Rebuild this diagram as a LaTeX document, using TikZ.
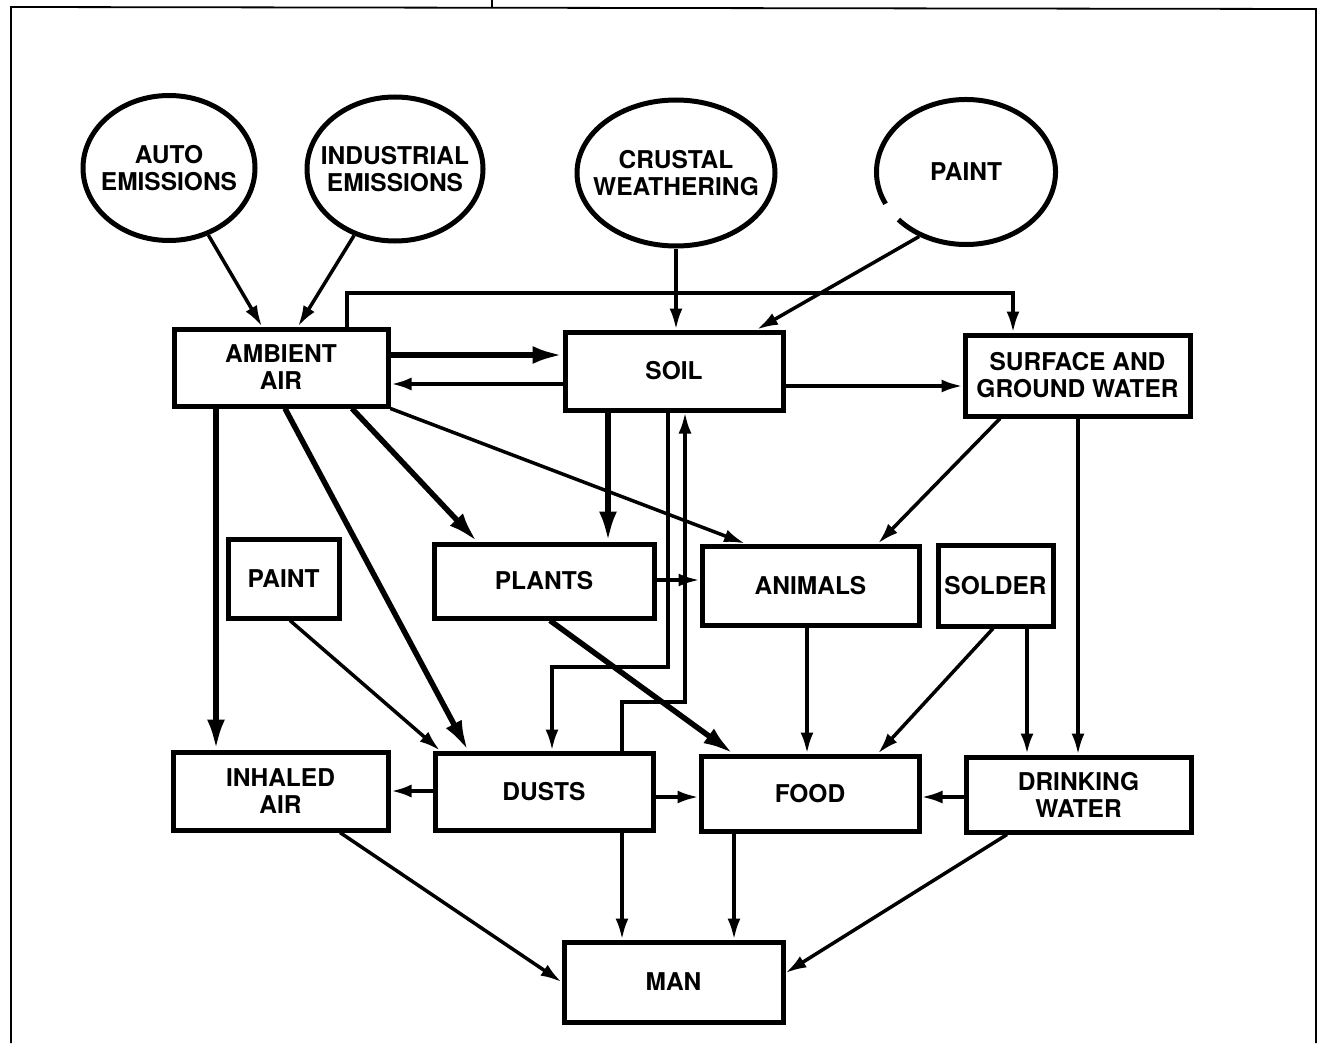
\documentclass[tikz,border=0pt]{standalone}
\usepackage{fontspec}
\setmainfont{TeX Gyre Heros}
\usetikzlibrary{shapes.geometric,arrows.meta}
\newcommand{\lbl}{\bfseries\fontsize{24.5}{27}\selectfont}
\tikzset{
  box/.style={draw, rectangle, line width=5pt, inner sep=0pt, align=center, font=\lbl},
  oval/.style={draw, ellipse, line width=5pt, inner xsep=-40pt, inner ysep=0pt, align=center, font=\lbl},
  arr/.style={line width=3.5pt, -{Latex[length=21pt,width=13pt]}},
  bigarr/.style={line width=5.5pt, -{Latex[length=30pt,width=18pt]}},
  frame/.style={line width=1.8pt}
}
\begin{document}
\begin{tikzpicture}[x=1pt,y=-1pt]
\useasboundingbox (0,0) rectangle (1321,1043);
% frame
\draw[frame] (11,1043) -- (11,7) -- (1316,9) -- (1316,1043);
\draw[frame] (492,0) -- (492,7);
% ellipses
\node[oval, minimum width=172, minimum height=145] (auto) at (169,168) {AUTO\\EMISSIONS};
\node[oval, minimum width=176, minimum height=144] (ind) at (395,169) {INDUSTRIAL\\EMISSIONS};
\node[oval, minimum width=198, minimum height=146] (cw) at (676,173) {CRUSTAL\\WEATHERING};
\node[oval, draw=none, minimum width=179, minimum height=145] (pe) at (966,172) {PAINT};
\draw[line width=5pt] (966,172) ++(154:89.5 and 72.5) arc[start angle=154, end angle=499, x radius=89.5, y radius=72.5];
% boxes
\node[box, minimum width=214, minimum height=77] (aa) at (281,367.5) {AMBIENT\\AIR};
\node[box, minimum width=218, minimum height=78] (soil) at (674,371) {SOIL};
\node[box, minimum width=225, minimum height=81] (sgw) at (1077.5,375.5) {SURFACE AND\\GROUND WATER};
\node[box, minimum width=220, minimum height=74] (plants) at (544,581) {PLANTS};
\node[box, minimum width=217, minimum height=79] (animals) at (810.5,585.5) {ANIMALS};
\node[box, minimum width=115, minimum height=81] (solder) at (995.5,585.5) {SOLDER};
\node[box, minimum width=111, minimum height=79] (pb) at (283.5,578.5) {PAINT};
\node[box, minimum width=215, minimum height=78] (inh) at (280.5,791) {INHALED\\AIR};
\node[box, minimum width=218, minimum height=77] (dusts) at (544,791.5) {DUSTS};
\node[box, minimum width=218, minimum height=75] (food) at (810,793.5) {FOOD};
\node[box, minimum width=225, minimum height=75] (dw) at (1078.5,794.5) {DRINKING\\WATER};
\node[box, minimum width=219, minimum height=80] (man) at (673.5,982) {MAN};
% connectors
\draw[arr] (auto) -- (aa.north -| 262,0);
\draw[arr] (ind) -- (aa.north -| 298,0);
\draw[arr] (cw.south) -- (soil.north -| cw.south);
\draw[arr] (pe.234) -- (soil.north -| 757,0);
\draw[arr] (aa.north -| 347,0) |- (1013,293) -- (sgw.north -| 1013,0);
\draw[bigarr] (aa.east |- 0,355) -- (soil.west |- 0,355);
\draw[arr, line width=4.5pt] (soil.west |- 0,384) -- (aa.east |- 0,384);
\draw[arr] (soil.east |- 0,386) -- (sgw.west |- 0,386);
\draw[bigarr] (aa.south -| 352,0) -- (plants.north -| 477,0);
\draw[arr] (aa.south east) -- (animals.north -| 745,0);
\draw[bigarr] (soil.south -| 608,0) -- (plants.north -| 608,0);
\draw[arr] (soil.south -| 668,0) |- (552,667) -- (dusts.north -| 552,0);
\draw[arr] (dusts.north -| 622,0) |- (685,702) -- (soil.south -| 685,0);
\draw[arr] (plants.east |- 0,580) -- (animals.west |- 0,580);
\draw[bigarr] (plants.south -| 550,0) -- (food.north -| 733,0);
\draw[arr] (sgw.south -| 1000,0) -- (animals.north -| 878,0);
\draw[arr] (sgw.south -| 1078,0) -- (dw.north -| 1078,0);
\draw[bigarr] (aa.south -| 216,0) -- (inh.north -| 216,0);
\draw[bigarr] (aa.south -| 285,0) -- (dusts.north -| 468,0);
\draw[arr] (pb.south -| 290,0) -- (dusts.north -| 440,0);
\draw[arr] (animals.south -| 807,0) -- (food.north -| 807,0);
\draw[arr] (solder.south -| 993,0) -- (food.north -| 878,0);
\draw[arr, line width=4.5pt] (solder.south -| 1027,0) -- (dw.north -| 1027,0);
\draw[arr, line width=4.5pt] (dusts.west |- 0,791) -- (inh.east |- 0,791);
\draw[arr] (dusts.east |- 0,797) -- (food.west |- 0,797);
\draw[arr] (dw.west |- 0,797) -- (food.east |- 0,797);
\draw[arr] (inh.south -| 340,0) -- (man.west |- 0,982);
\draw[arr] (dusts.south -| 622,0) -- (man.north -| 622,0);
\draw[arr] (food.south -| 734,0) -- (man.north -| 734,0);
\draw[arr] (dw.south -| 1007,0) -- (man.east |- 0,973);
\end{tikzpicture}
\end{document}
